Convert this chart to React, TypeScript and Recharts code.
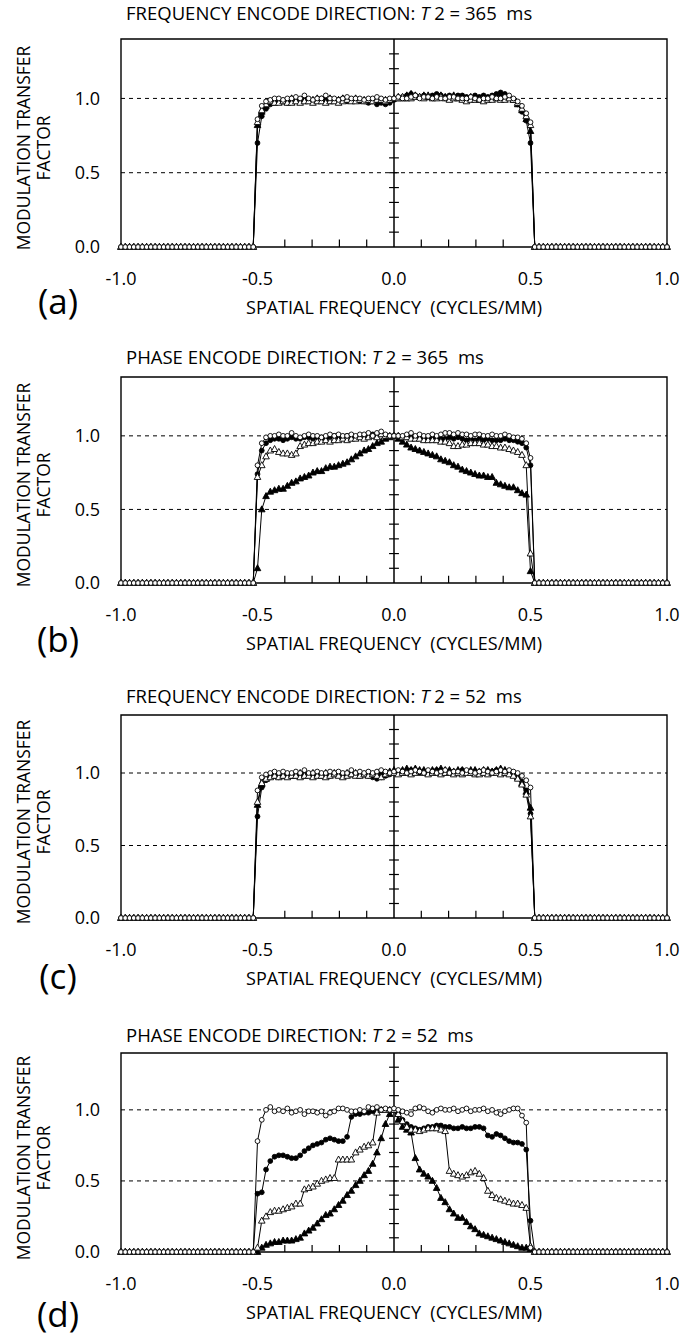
import React from 'react';
import { ComposedChart, Line, XAxis, YAxis, ReferenceLine, ReferenceArea } from 'recharts';

// frequency grid: 1/64 cycles/mm steps from -1 to 1
const FREQ = Array.from({ length: 129 }, (_, i) => (i - 64) / 64);

// |f| > 0.5 : nothing passes
const ZERO_TAIL = [
  0, 0, 0, 0, 0, 0, 0, 0, 0, 0, 0, 0, 0, 0, 0, 0,
  0, 0, 0, 0, 0, 0, 0, 0, 0, 0, 0, 0, 0, 0, 0, 0,
];

// passband values, k = -32 .. 32 (f = k/64), 13 per row
// (a) frequency encode, T2 = 365 ms
const A_OPEN_CIRCLE = [
  0.86, 0.95, 0.98, 0.99, 1.0, 1.0, 0.99, 1.0, 1.0, 1.01, 1.0, 1.02, 1.0,
  0.99, 1.0, 1.0, 1.02, 1.0, 1.0, 0.99, 1.0, 1.01, 1.0, 1.0, 1.0, 0.99,
  1.0, 1.0, 1.01, 1.0, 0.99, 1.0, 1.0, 1.01, 1.0, 1.0, 1.01, 1.02, 1.0,
  1.01, 1.01, 1.0, 1.01, 1.0, 1.0, 1.01, 1.01, 1.0, 1.0, 1.0, 1.01, 1.0,
  0.99, 1.0, 1.0, 1.01, 1.0, 1.0, 1.01, 1.02, 1.0, 0.98, 0.95, 0.9, 0.84,
];
const A_FILLED_CIRCLE = [
  0.7, 0.88, 0.93, 0.96, 0.97, 0.98, 0.98, 0.97, 0.98, 0.99, 0.98, 0.99, 0.99,
  0.98, 0.99, 1.0, 0.99, 0.98, 0.99, 0.99, 1.0, 0.98, 0.99, 0.99, 0.98, 0.98,
  0.97, 0.98, 0.96, 0.97, 0.96, 0.97, 0.99, 1.0, 1.01, 1.02, 1.03, 1.02, 1.01,
  1.02, 1.01, 1.02, 1.03, 1.02, 1.01, 1.02, 1.01, 1.02, 1.02, 1.01, 1.01, 1.02,
  1.01, 1.02, 1.01, 1.02, 1.03, 1.04, 1.03, 1.01, 0.99, 0.96, 0.91, 0.85, 0.7,
];
const A_OPEN_TRIANGLE = [
  0.84, 0.92, 0.96, 0.98, 0.97, 0.97, 0.98, 0.97, 0.97, 0.98, 0.97, 0.98, 0.98,
  0.97, 0.98, 0.98, 0.97, 0.98, 0.98, 0.97, 0.98, 0.99, 0.98, 0.98, 0.99, 0.98,
  0.99, 0.98, 0.99, 0.99, 0.98, 0.99, 1.0, 1.0, 1.01, 1.0, 1.0, 1.01, 1.01,
  1.0, 1.01, 1.0, 1.0, 1.01, 1.0, 0.99, 1.0, 1.0, 0.99, 0.98, 0.99, 0.99,
  0.99, 0.98, 0.99, 0.99, 1.0, 0.99, 0.99, 1.0, 0.99, 0.97, 0.93, 0.88, 0.82,
];
const A_FILLED_TRIANGLE = [
  0.82, 0.91, 0.95, 0.97, 0.98, 0.99, 0.98, 0.99, 1.0, 0.99, 0.99, 1.0, 0.99,
  0.99, 1.0, 0.99, 0.99, 1.0, 0.99, 0.99, 1.0, 0.99, 0.99, 1.0, 0.99, 0.99,
  0.98, 0.99, 0.98, 0.98, 0.99, 0.99, 1.0, 1.01, 1.0, 1.02, 1.03, 1.02, 1.01,
  1.02, 1.02, 1.01, 1.01, 1.02, 1.01, 1.01, 1.02, 1.01, 1.01, 1.0, 1.01, 1.01,
  1.0, 1.01, 1.0, 1.01, 1.01, 1.02, 1.02, 1.01, 0.99, 0.96, 0.92, 0.86, 0.78,
];

// (b) phase encode, T2 = 365 ms
const B_OPEN_CIRCLE = [
  0.8, 0.95, 0.99, 1.0, 1.0, 1.01, 1.0, 1.0, 1.02, 1.0, 0.99, 1.0, 1.01,
  1.0, 1.0, 0.99, 1.0, 1.01, 1.0, 1.01, 1.0, 1.0, 1.01, 1.0, 1.01, 1.01,
  1.02, 1.0, 1.02, 1.03, 1.01, 1.0, 1.0, 1.0, 1.0, 1.01, 1.02, 1.0, 1.01,
  1.0, 1.0, 1.01, 1.0, 1.01, 1.02, 1.02, 1.01, 1.02, 1.01, 1.01, 1.0, 1.01,
  1.01, 1.0, 1.0, 1.01, 1.0, 1.0, 1.01, 1.0, 0.99, 0.99, 0.98, 0.95, 0.85,
];
const B_FILLED_CIRCLE = [
  0.74, 0.9, 0.95, 0.97, 0.98, 0.98, 0.97, 0.98, 0.99, 0.98, 0.98, 0.99, 0.99,
  0.98, 0.99, 0.99, 0.98, 0.99, 1.0, 0.99, 0.99, 1.0, 1.0, 0.99, 1.0, 1.0,
  1.0, 1.01, 1.0, 1.01, 1.0, 1.0, 1.0, 1.0, 0.99, 0.99, 1.0, 0.99, 0.99,
  0.99, 0.98, 0.99, 0.99, 0.98, 0.98, 0.99, 0.98, 0.99, 0.98, 0.97, 0.98, 0.97,
  0.98, 0.97, 0.98, 0.97, 0.97, 0.97, 0.98, 0.97, 0.97, 0.96, 0.95, 0.92, 0.8,
];
const B_OPEN_TRIANGLE = [
  0.72, 0.8, 0.86, 0.9, 0.91, 0.89, 0.88, 0.88, 0.87, 0.88, 0.93, 0.94, 0.95,
  0.95, 0.96, 0.96, 0.97, 0.96, 0.97, 0.97, 0.98, 0.97, 0.98, 0.98, 0.99, 0.98,
  0.99, 1.0, 0.99, 1.01, 1.0, 1.0, 1.0, 1.0, 0.99, 0.99, 0.98, 0.98, 0.98,
  0.97, 0.97, 0.97, 0.97, 0.96, 0.96, 0.95, 0.93, 0.93, 0.94, 0.94, 0.95, 0.95,
  0.95, 0.94, 0.94, 0.93, 0.93, 0.92, 0.92, 0.91, 0.9, 0.89, 0.87, 0.8, 0.2,
];
const B_FILLED_TRIANGLE = [
  0.1, 0.5, 0.59, 0.62, 0.63, 0.64, 0.64, 0.66, 0.68, 0.69, 0.71, 0.72, 0.73,
  0.75, 0.76, 0.76, 0.78, 0.79, 0.79, 0.8, 0.81, 0.82, 0.84, 0.86, 0.88, 0.9,
  0.91, 0.93, 0.95, 0.96, 0.98, 0.99, 1.0, 0.98, 0.96, 0.94, 0.92, 0.91, 0.9,
  0.89, 0.88, 0.87, 0.86, 0.84, 0.83, 0.82, 0.8, 0.79, 0.77, 0.76, 0.75, 0.74,
  0.73, 0.73, 0.72, 0.72, 0.68, 0.67, 0.66, 0.65, 0.65, 0.63, 0.61, 0.6, 0.08,
];

// (c) frequency encode, T2 = 52 ms
const C_OPEN_CIRCLE = [
  0.88, 0.97, 0.99, 1.0, 1.01, 1.0, 1.01, 1.0, 1.0, 1.01, 1.0, 1.02, 1.0,
  1.0, 1.01, 1.0, 1.0, 1.01, 1.0, 1.01, 1.0, 1.0, 1.02, 1.0, 1.01, 1.0,
  1.01, 1.0, 1.01, 1.02, 1.01, 1.0, 1.01, 1.02, 1.01, 1.0, 1.01, 1.02, 1.01,
  1.0, 1.02, 1.01, 1.0, 1.01, 1.02, 1.0, 1.01, 1.01, 1.0, 1.02, 1.01, 1.0,
  1.01, 1.02, 1.01, 1.0, 1.01, 1.02, 1.01, 1.02, 1.01, 1.0, 0.98, 0.95, 0.9,
];
const C_FILLED_CIRCLE = [
  0.7, 0.9, 0.95, 0.97, 0.98, 0.97, 0.98, 0.99, 0.98, 0.98, 0.99, 0.98, 0.99,
  0.98, 0.99, 0.98, 0.99, 0.98, 0.99, 0.99, 0.98, 0.99, 1.0, 0.99, 0.98, 0.99,
  0.98, 0.97, 0.96, 0.97, 0.98, 0.99, 1.0, 1.01, 1.0, 1.01, 1.02, 1.01, 1.0,
  1.01, 1.0, 1.01, 1.02, 1.01, 1.0, 1.01, 1.0, 1.01, 1.02, 1.01, 1.0, 1.01,
  1.0, 1.01, 1.0, 1.01, 1.02, 1.01, 1.0, 1.01, 1.0, 0.98, 0.94, 0.88, 0.72,
];
const C_OPEN_TRIANGLE = [
  0.8, 0.93, 0.96, 0.97, 0.98, 0.97, 0.98, 0.97, 0.98, 0.98, 0.97, 0.98, 0.98,
  0.97, 0.98, 0.98, 0.97, 0.98, 0.99, 0.98, 0.97, 0.98, 0.99, 0.98, 0.98, 0.99,
  0.98, 0.99, 0.98, 0.97, 0.99, 1.0, 1.0, 0.99, 1.0, 1.0, 0.99, 1.0, 1.01,
  1.0, 0.99, 1.0, 1.0, 0.99, 1.0, 1.0, 0.99, 1.0, 0.99, 1.0, 1.0, 0.99,
  0.99, 1.0, 0.99, 1.0, 1.0, 0.99, 1.0, 0.99, 0.98, 0.96, 0.92, 0.85, 0.7,
];
const C_FILLED_TRIANGLE = [
  0.78, 0.92, 0.96, 0.98, 0.99, 0.98, 0.99, 0.99, 0.98, 0.99, 1.0, 0.99, 0.99,
  1.0, 0.99, 0.99, 1.0, 0.99, 1.0, 0.99, 0.99, 1.0, 0.99, 1.0, 1.0, 0.99,
  1.0, 0.99, 1.0, 1.0, 0.99, 1.01, 1.02, 1.01, 1.02, 1.03, 1.02, 1.03, 1.02,
  1.02, 1.01, 1.02, 1.02, 1.03, 1.02, 1.02, 1.01, 1.02, 1.02, 1.01, 1.02, 1.02,
  1.01, 1.02, 1.02, 1.01, 1.02, 1.03, 1.02, 1.01, 1.0, 0.97, 0.93, 0.87, 0.76,
];

// (d) phase encode, T2 = 52 ms
const D_OPEN_CIRCLE = [
  0.78, 0.93, 1.0, 1.02, 0.99, 1.0, 0.99, 1.01, 0.98, 0.99, 1.0, 0.97, 0.99,
  0.99, 0.98, 0.99, 0.96, 0.98, 0.99, 1.01, 1.01, 1.0, 0.99, 0.99, 1.0, 0.99,
  1.02, 1.01, 1.02, 1.0, 1.01, 1.0, 1.01, 1.0, 0.99, 0.98, 0.97, 1.01, 1.02,
  1.01, 0.99, 0.98, 1.0, 1.01, 1.0, 1.0, 1.01, 0.99, 1.0, 1.01, 0.99, 1.0,
  1.0, 1.01, 0.99, 1.0, 0.98, 0.97, 0.99, 1.0, 1.01, 1.01, 0.96, 0.91, 0.03,
];
const D_FILLED_CIRCLE = [
  0.41, 0.42, 0.58, 0.64, 0.67, 0.68, 0.68, 0.67, 0.66, 0.66, 0.68, 0.71, 0.73,
  0.75, 0.76, 0.77, 0.79, 0.8, 0.79, 0.78, 0.78, 0.81, 0.95, 0.97, 0.97, 0.98,
  0.98, 0.99, 0.99, 1.0, 1.0, 1.0, 1.0, 0.97, 0.93, 0.9, 0.88, 0.87, 0.86,
  0.87, 0.88, 0.88, 0.89, 0.89, 0.88, 0.88, 0.87, 0.87, 0.88, 0.87, 0.87, 0.88,
  0.88, 0.87, 0.82, 0.81, 0.83, 0.82, 0.8, 0.78, 0.77, 0.77, 0.76, 0.72, 0.22,
];
const D_OPEN_TRIANGLE = [
  0.03, 0.22, 0.25, 0.28, 0.29, 0.29, 0.3, 0.31, 0.32, 0.34, 0.34, 0.44, 0.45,
  0.46, 0.48, 0.5, 0.51, 0.52, 0.52, 0.65, 0.65, 0.65, 0.65, 0.7, 0.72, 0.74,
  0.75, 0.77, 0.98, 1.0, 1.0, 1.0, 1.0, 0.97, 0.92, 0.88, 0.86, 0.86, 0.85,
  0.86, 0.87, 0.87, 0.87, 0.86, 0.85, 0.57, 0.55, 0.54, 0.53, 0.54, 0.56, 0.57,
  0.55, 0.52, 0.43, 0.4, 0.38, 0.37, 0.36, 0.35, 0.34, 0.34, 0.33, 0.31, 0.04,
];
const D_FILLED_TRIANGLE = [
  0.0, 0.03, 0.05, 0.06, 0.07, 0.07, 0.08, 0.08, 0.08, 0.09, 0.1, 0.13, 0.15,
  0.17, 0.2, 0.23, 0.26, 0.27, 0.3, 0.33, 0.36, 0.4, 0.43, 0.47, 0.5, 0.54,
  0.57, 0.62, 0.7, 0.8, 0.9, 0.97, 1.0, 0.93, 0.88, 0.86, 0.84, 0.66, 0.58,
  0.55, 0.53, 0.5, 0.45, 0.38, 0.35, 0.3, 0.27, 0.24, 0.24, 0.21, 0.18, 0.16,
  0.13, 0.12, 0.11, 0.1, 0.09, 0.08, 0.07, 0.06, 0.05, 0.04, 0.03, 0.03, 0.02,
];

const X_TICKS = [-1, -0.5, 0, 0.5, 1];
const Y_TICKS = [0, 0.5, 1];
// small marks on the axes crossing at the origin
const CENTER_TICKS_Y = [0.1, 0.2, 0.3, 0.4, 0.5, 0.6, 0.7, 0.8, 0.9, 1.0, 1.1, 1.2, 1.3];
const CENTER_TICKS_X = [-0.4, -0.3, -0.2, -0.1, 0.1, 0.2, 0.3, 0.4];

const PANELS = [
  { letter: '(a)', dir: 'FREQUENCY', t2: '365', top: 39, bottom: 247, titleY: 13, letterY: 300,
    series: [A_OPEN_CIRCLE, A_FILLED_CIRCLE, A_OPEN_TRIANGLE, A_FILLED_TRIANGLE] },
  { letter: '(b)', dir: 'PHASE', t2: '365', top: 377, bottom: 583, titleY: 357, letterY: 638,
    series: [B_OPEN_CIRCLE, B_FILLED_CIRCLE, B_OPEN_TRIANGLE, B_FILLED_TRIANGLE] },
  { letter: '(c)', dir: 'FREQUENCY', t2: '52', top: 715, bottom: 918, titleY: 696, letterY: 975,
    series: [C_OPEN_CIRCLE, C_FILLED_CIRCLE, C_OPEN_TRIANGLE, C_FILLED_TRIANGLE] },
  { letter: '(d)', dir: 'PHASE', t2: '52', top: 1053, bottom: 1252, titleY: 1035, letterY: 1313,
    series: [D_OPEN_CIRCLE, D_FILLED_CIRCLE, D_OPEN_TRIANGLE, D_FILLED_TRIANGLE] },
];

const FONT = "'Open Sans', 'DejaVu Sans', sans-serif";
const fmt = (v: number) => v.toFixed(1);
const full = (band: number[]) => [...ZERO_TAIL, ...band, ...ZERO_TAIL];

const Circle = ({ cx, cy, filled }: any) => (
  <circle cx={cx} cy={cy} r={2.4} fill={filled ? '#000' : '#fff'} stroke="#000" strokeWidth={0.9} />
);
const Triangle = ({ cx, cy, filled }: any) => (
  <polygon
    points={`${cx},${cy - 3.6} ${cx - 3.3},${cy + 2.4} ${cx + 3.3},${cy + 2.4}`}
    fill={filled ? '#000' : '#fff'}
    stroke="#000"
    strokeWidth={0.9}
  />
);

// drawn in this order, so the open circles end up on top
const SERIES = [
  { key: 'ft', col: 3, Mark: Triangle, filled: true },
  { key: 'fc', col: 1, Mark: Circle, filled: true },
  { key: 'ot', col: 2, Mark: Triangle, filled: false },
  { key: 'oc', col: 0, Mark: Circle, filled: false },
];

const Panel = ({ p }: any) => {
  const cols = p.series.map(full);
  const data = FREQ.map((f, i) => ({ f, oc: cols[0][i], fc: cols[1][i], ot: cols[2][i], ft: cols[3][i] }));
  const chartTop = p.top - 20;
  const height = p.bottom - p.top + 20 + 50;
  const midY = (p.top + p.bottom) / 2 + 5;

  return (
    <>
      <div style={{ position: 'absolute', left: 126, top: p.titleY - 12, fontFamily: FONT, fontSize: 18.5, lineHeight: '24px', whiteSpace: 'pre' }}>
        {p.dir + ' ENCODE DIRECTION: '}
        <i>T</i>
        {' 2 = ' + p.t2 + '  ms'}
      </div>
      <div
        style={{
          position: 'absolute', left: 33, top: midY, transform: 'translate(-50%, -50%) rotate(-90deg)',
          fontFamily: FONT, fontSize: 17.5, lineHeight: '20px', textAlign: 'center', whiteSpace: 'nowrap',
        }}
      >
        MODULATION TRANSFER
        <br />
        FACTOR
      </div>
      <div style={{ position: 'absolute', left: 394, top: p.bottom + 60, transform: 'translate(-50%, -50%)', fontFamily: FONT, fontSize: 18, whiteSpace: 'pre' }}>
        {'SPATIAL FREQUENCY  (CYCLES/MM)'}
      </div>
      <div style={{ position: 'absolute', left: 58, top: p.letterY, transform: 'translate(-50%, -50%)', fontFamily: FONT, fontSize: 35 }}>
        {p.letter}
      </div>
      <div style={{ position: 'absolute', left: 0, top: chartTop }}>
        <ComposedChart width={682} height={height} data={data} margin={{ top: 20, right: 15, bottom: 0, left: 61 }}>
          <XAxis
            type="number" dataKey="f" domain={[-1, 1]} ticks={X_TICKS} tickFormatter={fmt} interval={0}
            axisLine={false} tickLine={false} tickSize={0} tickMargin={25} height={50}
            tick={{ fill: '#000', fontSize: 18, fontFamily: FONT }}
          />
          <YAxis
            type="number" domain={[0, 1.4]} ticks={Y_TICKS} tickFormatter={fmt} interval={0}
            axisLine={false} tickLine={false} tickSize={0} tickMargin={21} width={60}
            tick={{ fill: '#000', fontSize: 18, fontFamily: FONT }}
          />
          <ReferenceArea x1={-1} x2={1} y1={0} y2={1.4} fill="none" stroke="#000" strokeWidth={1.4} />
          <ReferenceLine y={1} stroke="#000" strokeDasharray="4 4" />
          <ReferenceLine y={0.5} stroke="#000" strokeDasharray="4 4" />
          <ReferenceLine x={0} stroke="#000" strokeWidth={1.5} />
          {CENTER_TICKS_Y.map((v) => (
            <ReferenceLine key={'ty' + v} segment={[{ x: -0.018, y: v }, { x: 0.018, y: v }]} stroke="#000" strokeWidth={1.2} />
          ))}
          {CENTER_TICKS_X.map((v) => (
            <ReferenceLine key={'tx' + v} segment={[{ x: v, y: 0 }, { x: v, y: 0.05 }]} stroke="#000" strokeWidth={1.2} />
          ))}
          {SERIES.map(({ key, Mark, filled }) => (
            <Line
              key={key}
              dataKey={key}
              type="linear"
              stroke="#000"
              strokeWidth={1}
              isAnimationActive={false}
              activeDot={false}
              dot={(d: any) => <Mark key={key + d.index} cx={d.cx} cy={d.cy} filled={filled} />}
            />
          ))}
        </ComposedChart>
      </div>
    </>
  );
};

export default function App() {
  return (
    <div style={{ position: 'absolute', left: 0, top: 0, width: 682, height: 1334, background: '#fff', color: '#000' }}>
      {PANELS.map((p) => (
        <Panel key={p.letter} p={p} />
      ))}
    </div>
  );
}
